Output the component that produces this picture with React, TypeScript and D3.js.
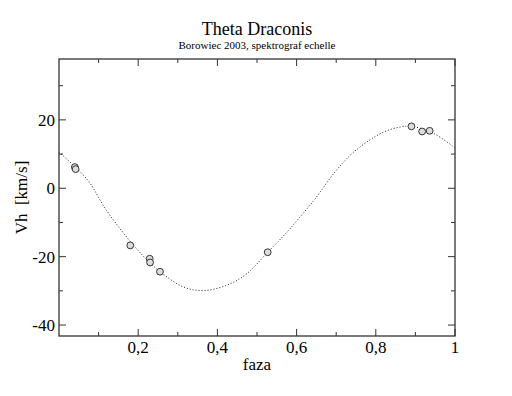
import React, { useEffect, useRef } from 'react';
import * as d3 from 'd3';

// measured radial velocities (phase, Vh)
const obsPhase = [0.040, 0.042, 0.180, 0.229, 0.230, 0.255, 0.527, 0.890, 0.917, 0.936];
const obsVh = [6.2, 5.6, -16.7, -20.6, -21.7, -24.4, -18.7, 18.1, 16.6, 16.8];

// fitted curve
const fitPhase = [0.0, 0.073, 0.115, 0.158, 0.2, 0.242, 0.313, 0.368, 0.431, 0.474, 0.527, 0.575, 0.608, 0.65, 0.693, 0.735, 0.777, 0.819, 0.861, 0.89, 0.945, 1.0];
const fitVh = [10.6, 2.3, -5.6, -12.4, -18.2, -23.1, -28.8, -29.9, -28.0, -25.0, -18.7, -12.9, -8.5, -2.6, 4.2, 9.6, 13.5, 16.4, 17.9, 18.1, 16.1, 11.8];

const xMajor = [0.2, 0.4, 0.6, 0.8, 1];
const xMinor = [0.1, 0.3, 0.5, 0.7, 0.9];
const yMajor = [-40, -20, 0, 20];
const yMinor = [-30, -10, 10, 30];

export default function App() {
    const svgRef = useRef<SVGSVGElement>(null);

    const width = 512;
    const height = 396;
    const margin = { top: 59, right: 57, bottom: 60, left: 59 };
    const innerWidth = width - margin.left - margin.right;
    const innerHeight = height - margin.top - margin.bottom;

    useEffect(() => {
        const svg = d3.select(svgRef.current);
        svg.selectAll('*').remove();

        const font = 'Liberation Serif';

        const xScale = d3.scaleLinear().domain([0, 1]).range([0, innerWidth]);
        const yScale = d3.scaleLinear().domain([-43.2, 37.8]).range([innerHeight, 0]);

        svg.append('text')
            .attr('x', 257)
            .attr('y', 35)
            .attr('text-anchor', 'middle')
            .style('font-family', font)
            .style('font-size', '18px')
            .text('Theta Draconis');

        svg.append('text')
            .attr('x', 257)
            .attr('y', 49)
            .attr('text-anchor', 'middle')
            .style('font-family', font)
            .style('font-size', '11px')
            .text('Borowiec 2003, spektrograf echelle');

        const g = svg.append('g')
            .attr('transform', `translate(${margin.left}, ${margin.top})`);

        // curve
        const line = d3.line<number>()
            .x((d, i) => xScale(fitPhase[i]))
            .y(d => yScale(d))
            .curve(d3.curveCatmullRom);

        g.append('path')
            .datum(fitVh)
            .attr('d', line)
            .attr('fill', 'none')
            .attr('stroke', '#222')
            .attr('stroke-width', 1)
            .attr('stroke-dasharray', '1,2');

        // frame
        g.append('rect')
            .attr('width', innerWidth)
            .attr('height', innerHeight)
            .attr('fill', 'none')
            .attr('stroke', '#333')
            .attr('stroke-width', 1.3);

        const tickColor = '#333';
        const addXTicks = (vals: number[], len: number) => {
            vals.forEach(v => {
                g.append('line').attr('x1', xScale(v)).attr('x2', xScale(v))
                    .attr('y1', innerHeight).attr('y2', innerHeight - len)
                    .attr('stroke', tickColor);
                g.append('line').attr('x1', xScale(v)).attr('x2', xScale(v))
                    .attr('y1', 0).attr('y2', len)
                    .attr('stroke', tickColor);
            });
        };
        const addYTicks = (vals: number[], len: number) => {
            vals.forEach(v => {
                g.append('line').attr('x1', 0).attr('x2', len)
                    .attr('y1', yScale(v)).attr('y2', yScale(v))
                    .attr('stroke', tickColor);
                g.append('line').attr('x1', innerWidth).attr('x2', innerWidth - len)
                    .attr('y1', yScale(v)).attr('y2', yScale(v))
                    .attr('stroke', tickColor);
            });
        };
        addXTicks(xMajor, 7);
        addXTicks(xMinor, 4);
        addYTicks(yMajor, 7);
        addYTicks(yMinor, 4);

        g.selectAll('.xlab')
            .data(xMajor)
            .enter()
            .append('text')
            .attr('x', d => xScale(d))
            .attr('y', innerHeight + 17)
            .attr('text-anchor', 'middle')
            .style('font-family', font)
            .style('font-size', '17px')
            .text(d => String(d).replace('.', ','));

        g.selectAll('.ylab')
            .data(yMajor)
            .enter()
            .append('text')
            .attr('x', -4)
            .attr('y', d => yScale(d) + 6)
            .attr('text-anchor', 'end')
            .style('font-family', font)
            .style('font-size', '17px')
            .text(d => String(d));

        g.append('text')
            .attr('x', innerWidth / 2)
            .attr('y', innerHeight + 34)
            .attr('text-anchor', 'middle')
            .style('font-family', font)
            .style('font-size', '17px')
            .text('faza');

        g.append('text')
            .attr('transform', 'rotate(-90)')
            .attr('x', -innerHeight / 2)
            .attr('y', -32)
            .attr('text-anchor', 'middle')
            .style('font-family', font)
            .style('font-size', '17px')
            .style('white-space', 'pre')
            .text('Vh  [km/s]');

        // observations
        g.selectAll('.obs')
            .data(obsVh)
            .enter()
            .append('circle')
            .attr('cx', (d, i) => xScale(obsPhase[i]))
            .attr('cy', d => yScale(d))
            .attr('r', 3.4)
            .attr('fill', '#ddd')
            .attr('stroke', '#333')
            .attr('stroke-width', 1);
    });

    return (
        <svg ref={svgRef} width={width} height={height}
            style={{ position: 'absolute', left: 0, top: 0, background: '#fff' }}></svg>
    );
}
